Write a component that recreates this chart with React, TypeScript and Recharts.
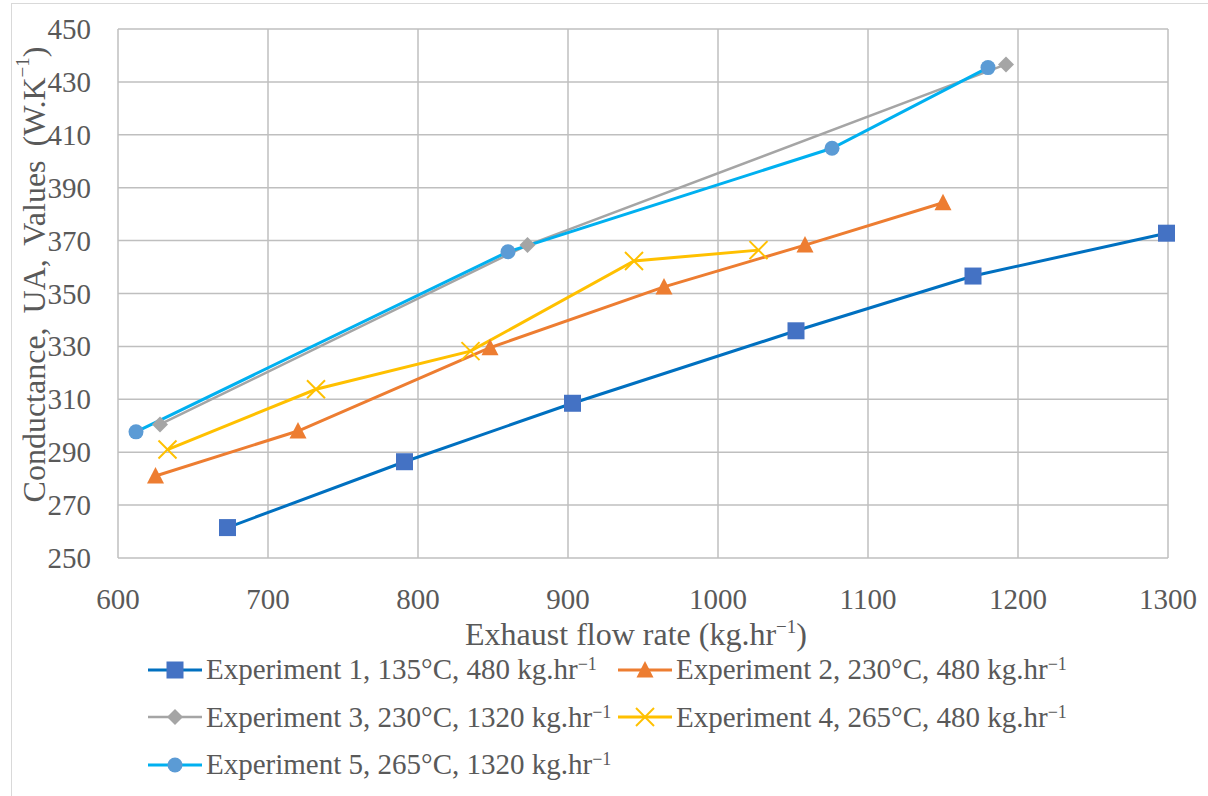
import { LineChart, Line, XAxis, YAxis, CartesianGrid, Legend, Label } from 'recharts'

// exhaust flow rate (kg/hr) and conductance UA (W/K) per experiment
const flow1 = [673, 791, 903, 1052, 1170, 1299]
const ua1 = [261.5, 286.4, 308.5, 335.9, 356.6, 372.8]
const flow2 = [625, 720, 848, 964, 1058, 1150]
const ua2 = [281, 298, 329.5, 352.5, 368.3, 384.3]
const flow3 = [628, 873, 1192]
const ua3 = [300.5, 368.3, 436.6]
const flow4 = [633, 732, 835, 944, 1027]
const ua4 = [291, 313.8, 328.2, 362.3, 366.4]
const flow5 = [612, 860, 1076, 1180]
const ua5 = [297.7, 365.8, 404.9, 435.4]

const xTicks = [600, 700, 800, 900, 1000, 1100, 1200, 1300]
const yTicks = [250, 270, 290, 310, 330, 350, 370, 390, 410, 430, 450]

const names = [
  'Experiment 1, 135°C, 480 kg.hr',
  'Experiment 2, 230°C, 480 kg.hr',
  'Experiment 3, 230°C, 1320 kg.hr',
  'Experiment 4, 265°C, 480 kg.hr',
  'Experiment 5, 265°C, 1320 kg.hr',
]

const zip = (xs: number[], ys: number[]) => xs.map((x, i) => ({ flow: x, ua: ys[i] }))

const FONT = '"Liberation Serif", "Times New Roman", serif'
const TEXT = '#595959'

type Shape = 'square' | 'triangle' | 'diamond' | 'x' | 'circle'

const series = [
  { key: 's1', data: zip(flow1, ua1), line: '#0070C0', mark: '#4472C4', shape: 'square' as Shape, width: 3 },
  { key: 's2', data: zip(flow2, ua2), line: '#ED7D31', mark: '#ED7D31', shape: 'triangle' as Shape, width: 3 },
  { key: 's3', data: zip(flow3, ua3), line: '#A5A5A5', mark: '#A5A5A5', shape: 'diamond' as Shape, width: 2.5 },
  { key: 's4', data: zip(flow4, ua4), line: '#FFC000', mark: '#FFC000', shape: 'x' as Shape, width: 3 },
  { key: 's5', data: zip(flow5, ua5), line: '#00B0F0', mark: '#5B9BD5', shape: 'circle' as Shape, width: 3 },
]

function marker(shape: Shape, cx: number, cy: number, color: string, s = 1) {
  switch (shape) {
    case 'square':
      return <rect x={cx - 8.5 * s} y={cy - 8.5 * s} width={17 * s} height={17 * s} fill={color} />
    case 'triangle':
      return (
        <polygon
          points={`${cx},${cy - 9 * s} ${cx + 8.5 * s},${cy + 7.5 * s} ${cx - 8.5 * s},${cy + 7.5 * s}`}
          fill={color}
        />
      )
    case 'diamond':
      return (
        <polygon
          points={`${cx},${cy - 8 * s} ${cx + 8 * s},${cy} ${cx},${cy + 8 * s} ${cx - 8 * s},${cy}`}
          fill={color}
        />
      )
    case 'x':
      return (
        <g stroke={color} strokeWidth={2}>
          <line x1={cx - 9 * s} y1={cy - 9 * s} x2={cx + 9 * s} y2={cy + 9 * s} />
          <line x1={cx - 9 * s} y1={cy + 9 * s} x2={cx + 9 * s} y2={cy - 9 * s} />
        </g>
      )
    default:
      return <circle cx={cx} cy={cy} r={7.5 * s} fill={color} />
  }
}

const XTick = ({ x, y, payload }: any) => (
  <text x={x} y={y + 24} textAnchor="middle" fill={TEXT} style={{ fontFamily: FONT, fontSize: 29 }}>
    {payload.value}
  </text>
)

const YTick = ({ x, y, payload }: any) => (
  <text x={x} y={y + 10} textAnchor="end" fill={TEXT} style={{ fontFamily: FONT, fontSize: 29 }}>
    {payload.value}
  </text>
)

function LegendBox() {
  return (
    <div
      style={{
        display: 'grid',
        gridTemplateColumns: '470px 470px',
        gridAutoRows: '47.5px',
        fontFamily: FONT,
        fontSize: 29,
        color: TEXT,
      }}
    >
      {series.map((s, i) => (
        <div key={s.key} style={{ display: 'flex', alignItems: 'center', whiteSpace: 'nowrap' }}>
          <svg width={54} height={24} style={{ marginRight: 4, flex: 'none' }}>
            <line x1={0} y1={12} x2={54} y2={12} stroke={s.line} strokeWidth={s.width} />
            {marker(s.shape, 27, 12, s.mark, 1)}
          </svg>
          <span>
            {names[i]}
            <sup style={{ fontSize: 18, verticalAlign: 'top', lineHeight: 1, position: 'relative', top: 2 }}>−1</sup>
          </span>
        </div>
      ))}
    </div>
  )
}

export default function App() {
  return (
    <div style={{ position: 'absolute', left: 0, top: 0, width: 1208, height: 796, background: '#fff' }}>
      <div
        style={{
          position: 'absolute',
          left: 11,
          top: 3,
          right: 0,
          bottom: 0,
          borderLeft: '1.5px solid #D9D9D9',
          borderTop: '1.5px solid #D9D9D9',
        }}
      />
      <LineChart
        width={1208}
        height={796}
        margin={{ top: 29, right: 40, left: 0, bottom: 0 }}
        style={{ position: 'absolute', left: 0, top: 0 }}
      >
        <CartesianGrid stroke="#BFBFBF" strokeWidth={1.5} />
        <XAxis
          dataKey="flow"
          type="number"
          domain={[600, 1300]}
          ticks={xTicks}
          allowDuplicatedCategory={false}
          axisLine={false}
          tickLine={false}
          tickMargin={21}
          height={238}
          tick={<XTick />}
        >
          <Label
            content={({ viewBox }: any) => (
              <text
                x={viewBox.x + viewBox.width / 2 - 7}
                y={viewBox.y + 87}
                textAnchor="middle"
                fill={TEXT}
                style={{ fontFamily: FONT, fontSize: 32 }}
              >
                Exhaust flow rate (kg.hr
                <tspan style={{ fontSize: 19 }} dy={-12}>−1</tspan>
                <tspan dy={12}>)</tspan>
              </text>
            )}
          />
        </XAxis>
        <YAxis
          dataKey="ua"
          type="number"
          domain={[250, 450]}
          ticks={yTicks}
          axisLine={false}
          tickLine={false}
          tickMargin={21}
          width={118}
          tick={<YTick />}
        >
          <Label
            content={({ viewBox }: any) => {
              const cx = viewBox.x + 34
              const cy = viewBox.y + viewBox.height / 2 - 19
              return (
                <text
                  x={cx}
                  y={cy}
                  transform={`rotate(-90 ${cx} ${cy})`}
                  textAnchor="middle"
                  dominantBaseline="central"
                  fill={TEXT}
                  style={{ fontFamily: FONT, fontSize: 32, wordSpacing: 6 }}
                >
                  Conductance, UA, Values (W.K
                  <tspan style={{ fontSize: 19 }} dy={-12}>−1</tspan>
                  <tspan dy={12}>)</tspan>
                </text>
              )
            }}
          />
        </YAxis>
        <Legend
          layout="vertical"
          align="center"
          verticalAlign="middle"
          wrapperStyle={{ left: 148, top: 646, width: 960 }}
          content={() => <LegendBox />}
        />
        {series.map((s) => (
          <Line
            key={s.key}
            data={s.data}
            dataKey="ua"
            name={s.key}
            stroke={s.line}
            strokeWidth={s.width}
            isAnimationActive={false}
            dot={(p: any) => <g key={`${s.key}-${p.index}`}>{marker(s.shape, p.cx, p.cy, s.mark)}</g>}
            activeDot={false}
          />
        ))}
      </LineChart>
    </div>
  )
}
